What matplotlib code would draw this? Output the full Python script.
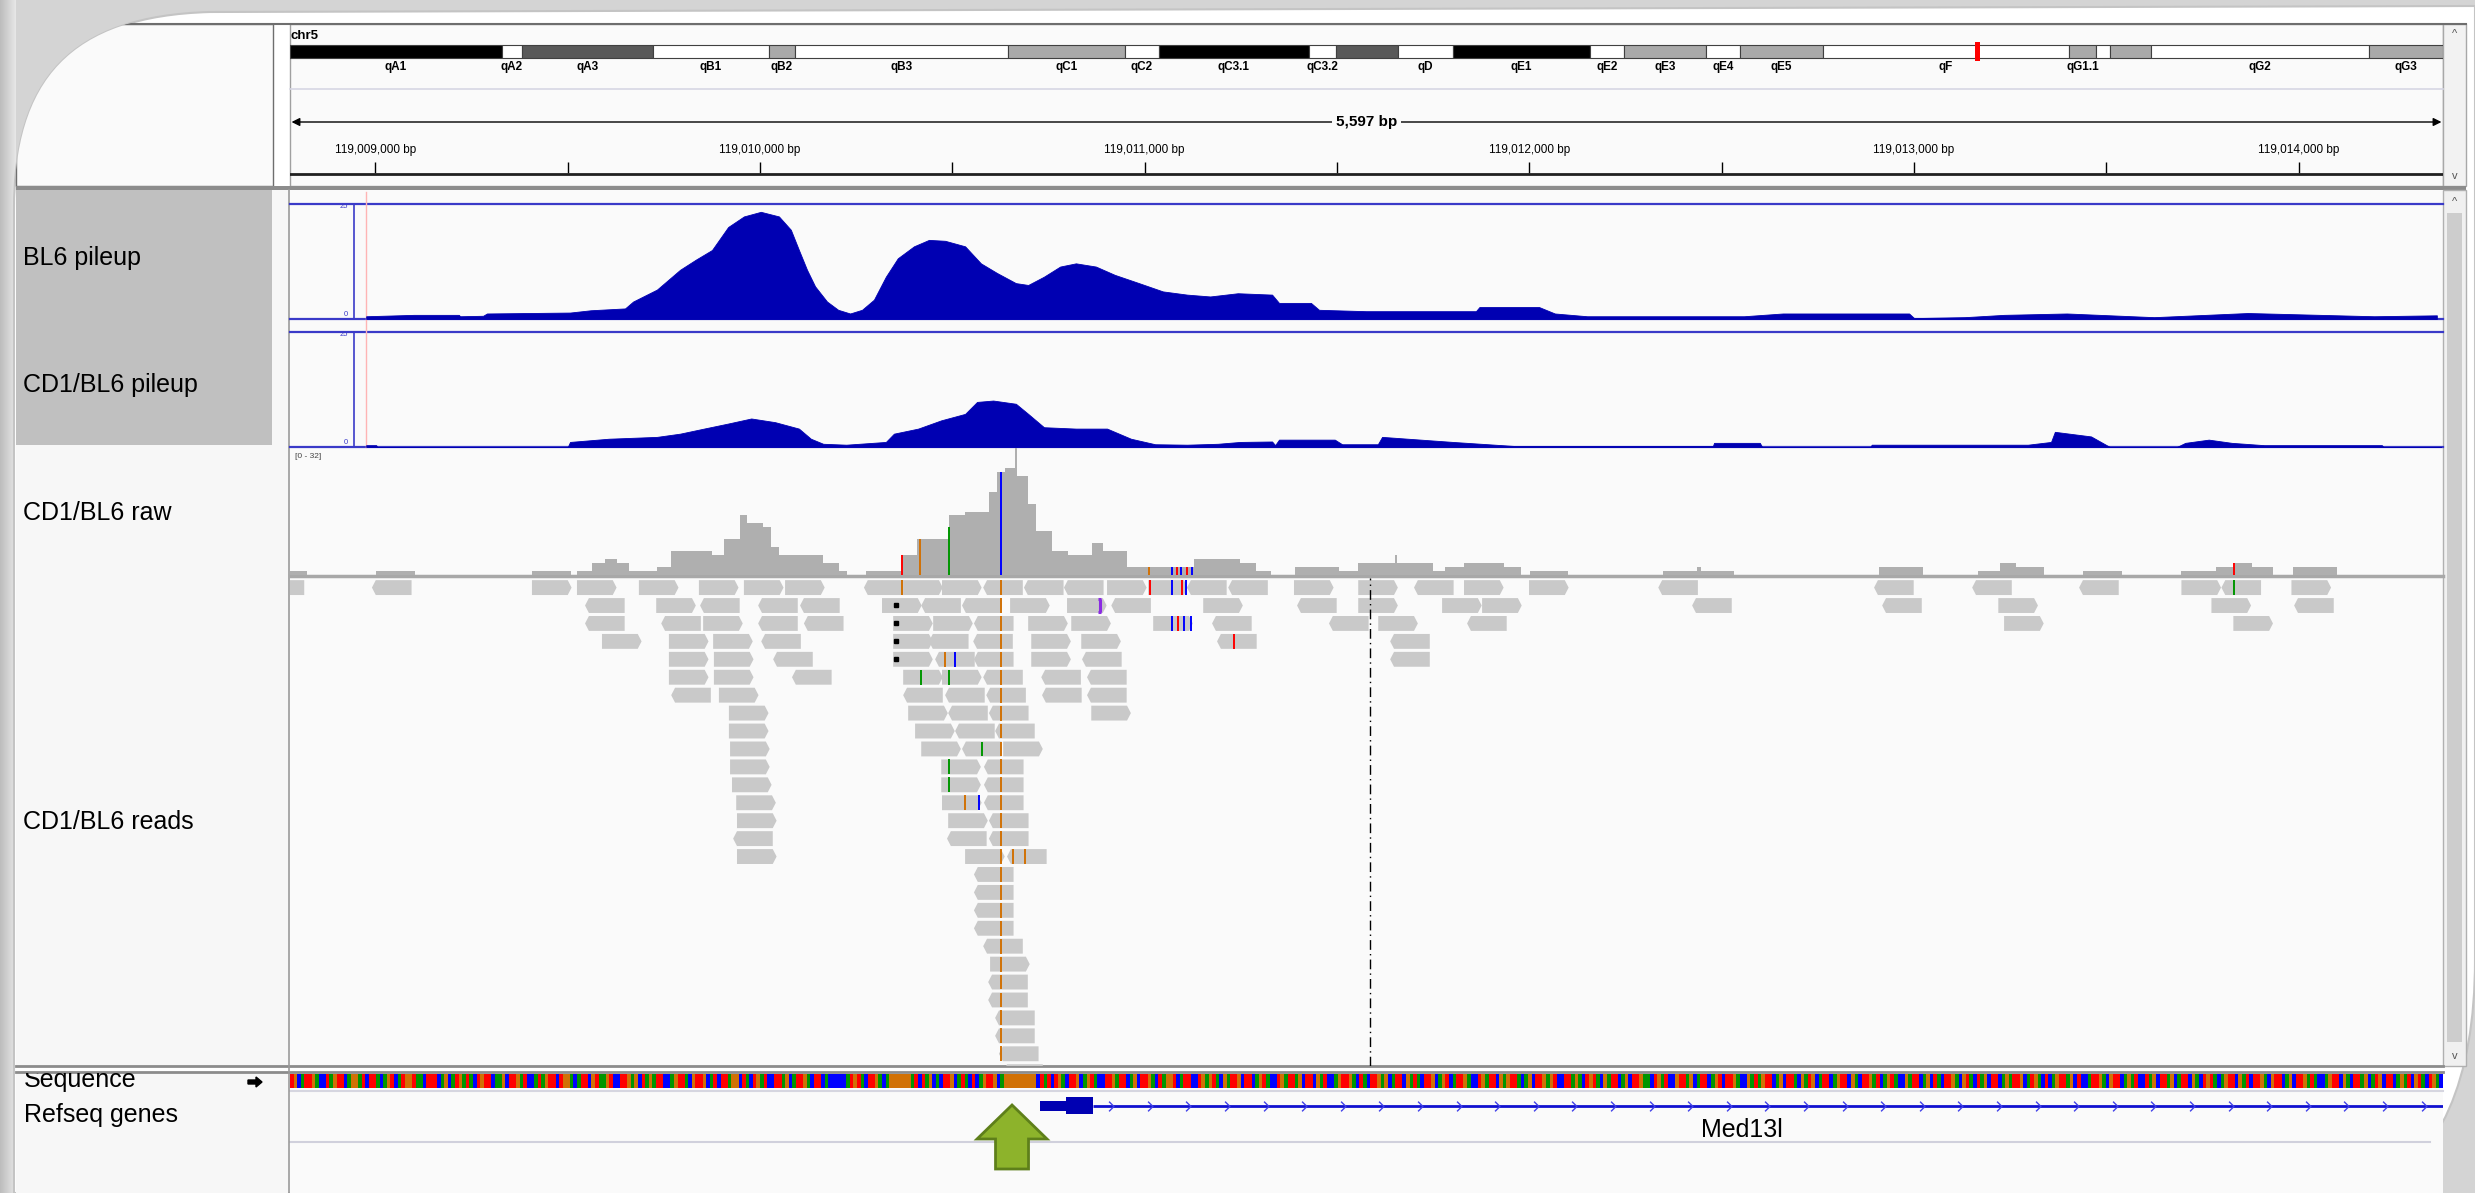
import numpy as np
import matplotlib.pyplot as plt
from matplotlib.patches import Rectangle, Polygon, PathPatch, FancyArrow
from matplotlib.path import Path

# locus shown in the IGV window (mm10 chr5)
view_start = 119008778
view_end = 119014375
chr5_length = 151834684

# chr5 cytobands, band ends in Mb
band_names = ['qA1', 'qA2', 'qA3', 'qB1', 'qB2', 'qB3', 'qC1', 'qC2', 'qC3.1', 'qC3.2', 'qC3.3', 'qD',
              'qE1', 'qE2', 'qE3', 'qE4', 'qE5', 'qF', 'qG1.1', 'qG1.2', 'qG1.3', 'qG2', 'qG3']
band_ends = [14.95, 16.36, 25.6, 33.78, 35.61, 50.63, 58.89, 61.28, 71.86, 73.77, 78.14, 82.02,
             91.68, 94.08, 99.86, 102.26, 108.11, 125.46, 127.36, 128.35, 131.24, 146.62, 151.83]
band_stains = ['gpos100', 'gneg', 'gpos75', 'gneg', 'gpos33', 'gneg', 'gpos33', 'gneg', 'gpos100', 'gneg',
               'gpos75', 'gneg', 'gpos100', 'gneg', 'gpos33', 'gneg', 'gpos33', 'gneg', 'gpos33', 'gneg',
               'gpos33', 'gneg', 'gpos33']
hidden_band_labels = ['qC3.3', 'qG1.2', 'qG1.3']

ruler_ticks = [119009000, 119009500, 119010000, 119010500, 119011000, 119011500,
               119012000, 119012500, 119013000, 119013500, 119014000]

# BL6 pileup (bigwig, range 0-25)
bl6_pos = [119008976, 119009100, 119009217, 119009220, 119009280, 119009290, 119009506, 119009560,
           119009649, 119009670, 119009732, 119009792, 119009833, 119009875, 119009917, 119009958,
           119010002, 119010049, 119010080, 119010101, 119010122, 119010143, 119010174, 119010203,
           119010234, 119010265, 119010296, 119010327, 119010358, 119010400, 119010439, 119010481,
           119010533, 119010574, 119010616, 119010665, 119010697, 119010738, 119010780, 119010821,
           119010873, 119010922, 119010985, 119011047, 119011110, 119011170, 119011242, 119011331,
           119011349, 119011432, 119011453, 119011575, 119011861, 119011870, 119012025, 119012066,
           119012150, 119012558, 119012659, 119012987, 119013000, 119013132, 119013234, 119013397,
           119013624, 119013868, 119014196, 119014359]
bl6_cov = [0.6, 0.9, 0.9, 0.6, 0.7, 1.2, 1.4, 1.9,
           2.3, 3.8, 6.4, 10.7, 12.9, 15.0, 20.0, 22.3,
           23.3, 22.3, 19.4, 15.0, 10.7, 7.1, 3.8, 2.0,
           1.2, 2.0, 4.2, 9.2, 13.2, 15.8, 17.2, 17.0,
           15.8, 12.1, 10.0, 7.8, 7.4, 9.2, 11.4, 12.1,
           11.4, 9.6, 7.8, 6.0, 5.3, 4.9, 5.6, 5.3,
           3.5, 3.5, 2.0, 1.7, 1.7, 2.6, 2.6, 1.2,
           0.6, 0.6, 1.2, 1.2, 0.2, 0.4, 0.9, 1.2,
           0.4, 1.3, 0.6, 0.8]

# CD1/BL6 pileup (range 0-25)
cd1_pos = [119008976, 119009002, 119009005, 119009500, 119009506, 119009607, 119009670, 119009732,
           119009792, 119009854, 119009917, 119009977, 119010039, 119010101, 119010132, 119010164,
           119010224, 119010327, 119010348, 119010411, 119010471, 119010533, 119010564, 119010606,
           119010665, 119010697, 119010738, 119010821, 119010902, 119010964, 119011027, 119011110,
           119011190, 119011248, 119011331, 119011339, 119011349, 119011494, 119011513, 119011606,
           119011617, 119011801, 119011965, 119012477, 119012480, 119012599, 119012605, 119012886,
           119012890, 119013296, 119013356, 119013366, 119013460, 119013509, 119013683, 119013705,
           119013766, 119013826, 119013910, 119014216, 119014220, 119014370]
cd1_cov = [0.4, 0.4, 0.0, 0.0, 1.1, 1.8, 2.0, 2.2,
           2.9, 4.0, 5.1, 6.2, 5.4, 4.0, 1.8, 0.7,
           0.5, 1.1, 2.9, 4.0, 5.8, 7.2, 9.8, 10.1,
           9.4, 7.2, 4.3, 4.0, 4.0, 1.8, 0.6, 0.5,
           0.7, 1.1, 1.2, 0.4, 1.6, 1.6, 0.6, 0.6,
           2.2, 1.1, 0.2, 0.2, 0.9, 0.9, 0.0, 0.0,
           0.5, 0.5, 1.1, 3.3, 2.3, 0.0, 0.0, 0.9,
           1.6, 0.9, 0.4, 0.4, 0.0, 0.0]
pileup_max = 25

# CD1/BL6 raw coverage (step starts, range 0-32)
raw_pos = [119008779, 119008822, 119009001, 119009104, 119009406, 119009509, 119009525, 119009562,
           119009597, 119009628, 119009659, 119009731, 119009768, 119009875, 119009906, 119009947,
           119009967, 119010008, 119010029, 119010049, 119010163, 119010204, 119010225, 119010276,
           119010368, 119010409, 119010492, 119010533, 119010594, 119010615, 119010636, 119010664,
           119010667, 119010697, 119010718, 119010759, 119010800, 119010862, 119010892, 119010954,
           119011129, 119011248, 119011289, 119011329, 119011391, 119011504, 119011554, 119011651,
           119011655, 119011749, 119011780, 119011831, 119011933, 119011979, 119012001, 119012101,
           119012347, 119012435, 119012445, 119012533, 119012910, 119013024, 119013166, 119013223,
           119013264, 119013339, 119013438, 119013540, 119013694, 119013786, 119013833, 119013879,
           119013934, 119013985, 119014100]
raw_cov = [1, 0, 1, 0, 1, 0, 1, 3,
           4, 3, 1, 2, 6, 5, 9, 15,
           13, 12, 7, 5, 3, 1, 0, 1,
           5, 9, 15, 16, 21, 26, 27, 32,
           25, 18, 11, 6, 5, 8, 6, 2,
           4, 3, 1, 0, 2, 1, 3, 5,
           3, 1, 2, 3, 2, 0, 1, 0,
           1, 2, 1, 0, 2, 0, 1, 3,
           2, 0, 1, 0, 1, 2, 3, 2,
           0, 2, 0]
raw_max = 32
raw_snv_pos = [119010368, 119010416, 119010491, 119010627, 119011011, 119011070, 119011084,
               119011095, 119011110, 119011122, 119013832]
raw_snv_height = [5, 9, 12, 26, 2, 2, 2, 2, 2, 2, 3]
raw_snv_base = 'TGACGCTCTCT'

# aligned reads: (row, start, strand)
reads = [
    (0, 119008712, '-'), (0, 119008991, '-'), (0, 119009407, '+'), (0, 119009524, '+'), (0, 119009685, '+'),
    (0, 119009841, '+'), (0, 119009958, '+'), (0, 119010065, '+'), (0, 119010270, '-'), (0, 119010372, '+'),
    (0, 119010473, '+'), (0, 119010580, '-'), (0, 119010686, '-'), (0, 119010790, '-'), (0, 119010902, '+'),
    (0, 119011009, '+'), (0, 119011110, '-'), (0, 119011217, '-'), (0, 119011388, '+'), (0, 119011555, '+'),
    (0, 119011700, '-'), (0, 119011830, '+'), (0, 119011999, '+'), (0, 119012335, '-'), (0, 119012896, '-'),
    (0, 119013151, '-'), (0, 119013429, '-'), (0, 119013695, '+'), (0, 119013799, '-'), (0, 119013981, '+'),
    (1, 119009545, '-'), (1, 119009730, '+'), (1, 119009844, '-'), (1, 119009995, '-'), (1, 119010104, '-'),
    (1, 119010317, '+'), (1, 119010419, '-'), (1, 119010525, '-'), (1, 119010650, '+'), (1, 119010798, '+'),
    (1, 119010913, '-'), (1, 119011152, '+'), (1, 119011396, '-'), (1, 119011555, '+'), (1, 119011773, '+'),
    (1, 119011877, '+'), (1, 119012423, '-'), (1, 119012917, '-'), (1, 119013219, '+'), (1, 119013773, '+'),
    (1, 119013988, '-'),
    (2, 119009545, '-'), (2, 119009743, '-'), (2, 119009852, '+'), (2, 119009995, '-'), (2, 119010114, '-'),
    (2, 119010346, '+'), (2, 119010450, '+'), (2, 119010556, '-'), (2, 119010697, '+'), (2, 119010809, '+'),
    (2, 119011022, '+'), (2, 119011175, '-'), (2, 119011479, '-'), (2, 119011607, '+'), (2, 119011838, '-'),
    (2, 119013234, '+'), (2, 119013830, '+'),
    (3, 119009589, '+'), (3, 119009763, '+'), (3, 119009878, '+'), (3, 119010003, '-'), (3, 119010346, '+'),
    (3, 119010439, '-'), (3, 119010554, '-'), (3, 119010705, '+'), (3, 119010835, '+'), (3, 119011188, '-'),
    (3, 119011638, '-'),
    (4, 119009763, '+'), (4, 119009880, '+'), (4, 119010034, '-'), (4, 119010346, '+'), (4, 119010455, '-'),
    (4, 119010556, '-'), (4, 119010705, '+'), (4, 119010837, '-'), (4, 119011638, '-'),
    (5, 119009763, '+'), (5, 119009880, '+'), (5, 119010083, '-'), (5, 119010372, '+'), (5, 119010473, '+'),
    (5, 119010580, '-'), (5, 119010731, '-'), (5, 119010850, '-'),
    (6, 119009769, '-'), (6, 119009893, '+'), (6, 119010372, '-'), (6, 119010481, '-'), (6, 119010588, '-'),
    (6, 119010733, '-'), (6, 119010850, '-'),
    (7, 119009919, '+'), (7, 119010385, '+'), (7, 119010489, '-'), (7, 119010595, '-'), (7, 119010861, '+'),
    (8, 119009919, '+'), (8, 119010403, '+'), (8, 119010507, '-'), (8, 119010611, '-'),
    (9, 119009922, '+'), (9, 119010419, '+'), (9, 119010525, '-'), (9, 119010632, '+'),
    (10, 119009922, '+'), (10, 119010471, '+'), (10, 119010582, '-'),
    (11, 119009927, '+'), (11, 119010471, '+'), (11, 119010582, '-'),
    (12, 119009938, '+'), (12, 119010473, '+'), (12, 119010582, '-'),
    (13, 119009940, '+'), (13, 119010489, '+'), (13, 119010595, '-'),
    (14, 119009930, '-'), (14, 119010486, '-'), (14, 119010595, '-'),
    (15, 119009940, '+'), (15, 119010533, '+'), (15, 119010642, '-'),
    (16, 119010556, '-'), (17, 119010556, '-'), (18, 119010556, '-'), (19, 119010556, '-'),
    (20, 119010580, '-'), (21, 119010598, '+'), (22, 119010593, '-'), (23, 119010593, '-'),
    (24, 119010611, '-'), (25, 119010611, '-'), (26, 119010621, '-'), (27, 119010632, '-'),
]
read_length = 103
shared_snv = 119010627
shared_snv_base = 'G'
read_mismatches = [(0, 119010368, 'G'), (0, 119011013, 'T'), (0, 119011070, 'C'), (0, 119011096, 'T'),
                   (0, 119011108, 'C'), (0, 119013832, 'A'),
                   (2, 119011070, 'C'), (2, 119011086, 'T'), (2, 119011101, 'C'), (2, 119011121, 'C'),
                   (3, 119011232, 'T'), (4, 119010481, 'G'), (4, 119010507, 'C'),
                   (5, 119010419, 'A'), (5, 119010491, 'A'), (9, 119010577, 'A'),
                   (10, 119010491, 'A'), (11, 119010491, 'A'), (12, 119010533, 'G'), (12, 119010568, 'C'),
                   (15, 119010657, 'G'), (15, 119010690, 'G')]
insertion_row = 1
insertion_pos = 119010883
clip_rows = [1, 2, 3, 4]
clip_pos = 119010354
center_line = 119011585

# reference sequence shown in the Sequence track
sequence = (
    'TGCATTGACCTAGTTCAGGATCTTACAGTCATGGTAACTTTCAGCATGAT'
    'ACTGTTCAAGCTTGATCCATAGTTCTGGACATTCGTAAGTCCTTGAGCTA'
    'GATTCCAGTTACGTTGCATCTTAGGCTACTGATCCTTAGCATTGACTTCA'
    'CCCCCATGTACTTGACAGGGGGGATCTAGCACTTGCATACTCAGTTGCAG'
    'GGGGGGGGCTATCTGACTTGCAGTACCTTGATTCAGCTTGACTAGGTCAT'
    'TCCTGAGTACGATTGCTTCAGTACCTGATTAGCTTCGATCCAGTTGACTA'
    'CTTGAGCATTCGATACTTGCAGTCATTGACCTGATTCGAGTTACAGCTTG'
    'AGTCCTTAGACTGTACGATTCAGCTTGAACTGATCCGTTAGCATTCAGTC'
    'TTGACCGATAGTTCAGCTTACGATGCATTCAGTTCGACTTGATCAGTACC'
    'GATTCAGCTACTTGACGTACTAGCTTCAGATTGCATGACTCAGTTAGCTC'
    'CATTGACGTTCAGATCCTAGCTTAGCATTCGACTGTACAGTTCGATCTTG'
    'ACGTTCAGCTTGATACCAGTTCGACTTAGCATGCTTCAGATCGTACTGAC'
)

gene_name = 'Med13l'
gene_start = 119010728
cds_start = 119010796
exon_end = 119010866
arrow_pos = 119010655

track_names = ['BL6 pileup', 'CD1/BL6 pileup', 'CD1/BL6 raw', 'CD1/BL6 reads']

base_colors = {'A': '#009600', 'C': '#0000FF', 'G': '#D17105', 'T': '#FF0000'}
stain_colors = {'gpos100': '#000000', 'gpos75': '#595959', 'gpos33': '#A9A9A9', 'gneg': '#FFFFFF'}

W, H = 2475, 1193
X0, X1 = 290, 2443
ROW_PX = 17.93


def px_axes(fig, x0, y0, x1, y1):
    ax = fig.add_axes([x0 / W, 1 - y1 / H, (x1 - x0) / W, (y1 - y0) / H])
    ax.set_axis_off()
    return ax


def genome_axes(fig, y0, y1):
    ax = px_axes(fig, X0, y0, X1, y1)
    ax.set_xlim(view_start, view_end)
    return ax


def draw_chrome(bg):
    # soft gray margin on the left, then the white "page" with its curled corners
    shade = np.linspace(0.74, 0.9, 16)[None, :]
    bg.imshow(shade, cmap='gray', vmin=0, vmax=1, extent=(0, 16, H, 0), aspect='auto')
    bg.set_xlim(0, W)
    bg.set_ylim(H, 0)
    verts = [(14, H), (14, 210), (14, 80), (70, 16), (210, 12), (W, 6), (W, 960),
             (W, 1080), (2440, 1160), (2372, H), (14, H)]
    codes = [Path.MOVETO, Path.LINETO, Path.CURVE4, Path.CURVE4, Path.CURVE4, Path.LINETO,
             Path.LINETO, Path.CURVE4, Path.CURVE4, Path.CURVE4, Path.CLOSEPOLY]
    page = PathPatch(Path(verts, codes), facecolor='white', edgecolor='#C4C4C4', lw=1.5)
    bg.add_patch(page)

    # header (its top-left corner disappears under the page curl)
    header_name = Rectangle((16, 24), 257, 162, facecolor='#FAFAFA', edgecolor='#6E6E6E', lw=1)
    bg.add_patch(header_name)
    header_name.set_clip_path(page)
    bg.add_patch(Rectangle((X0, 24), X1 - X0, 162, facecolor='#FAFAFA', edgecolor='#A0A0A0', lw=1))
    top_line, = bg.plot([16, 2466], [24, 24], color='#6E6E6E', lw=1.5)
    top_line.set_clip_path(page)
    bg.plot([X0, X1], [89, 89], color='#D6D6E4', lw=1.2)
    bg.add_patch(Rectangle((X1, 24), 23, 162, facecolor='#F2F2F2', edgecolor='#A8A8A8', lw=1))
    bg.text(2455, 34, '^', ha='center', va='center', fontsize=8, color='#555555')
    bg.text(2455, 176, 'v', ha='center', va='center', fontsize=8, color='#555555')
    bg.add_patch(Rectangle((16, 186), 2450, 4, facecolor='#8C8C8C', lw=0))

    # track panels
    bg.add_patch(Rectangle((16, 190), 272, 876, facecolor='#F7F7F7', lw=0))
    bg.add_patch(Rectangle((16, 190), 256, 255, facecolor='#C0C0C0', lw=0))
    bg.add_patch(Rectangle((X0, 190), X1 - X0, 876, facecolor='#FAFAFA', lw=0))
    bg.add_patch(Rectangle((X1, 190), 23, 876, facecolor='#F0F0F0', edgecolor='#B0B0B0', lw=1))
    bg.add_patch(Rectangle((2447, 213), 15, 829, facecolor='#CDCDCD', lw=0))
    bg.text(2455, 202, '^', ha='center', va='center', fontsize=8, color='#555555')
    bg.text(2455, 1056, 'v', ha='center', va='center', fontsize=8, color='#555555')

    # bottom panels
    bg.add_patch(Rectangle((16, 1072), 272, 121, facecolor='#F7F7F7', lw=0))
    bg.add_patch(Rectangle((X0, 1072), X1 - X0, 121, facecolor='#FAFAFA', lw=0))
    bg.plot([16, X1], [1066, 1066], color='#8C8C8C', lw=2)
    bg.plot([16, X1], [1072, 1072], color='#8C8C8C', lw=2)
    bg.plot([X0, X1], [1091, 1091], color='#D6D6E0', lw=1.5)
    bg.plot([X0, 2430], [1142, 1142], color='#D0D0DC', lw=1.5)
    bg.plot([289, 289], [190, H], color='#9A9A9A', lw=1.2)

    # pileup overlays
    for top, base in [(204, 319), (332, 447)]:
        bg.plot([X0, X1], [top, top], color='#3A3AC8', lw=1.6)
        bg.plot([X0, X1], [base, base], color='#3A3AC8', lw=1.6)
        bg.plot([354, 354], [top, base], color='#3A3AC8', lw=1.2)
        bg.text(348, top + 2, str(pileup_max), ha='right', va='center', fontsize=5.5, color='#3A3AC8')
        bg.text(348, base - 4, '0', ha='right', va='center', fontsize=5.5, color='#3A3AC8')
    bg.plot([366, 366], [192, 447], color='#FFB4B4', lw=1)
    bg.plot([X0, X1], [576, 576], color='#A8A8A8', lw=2.5)
    bg.text(295, 456, f'[0 - {raw_max}]', ha='left', va='center', fontsize=6, color='#444444')

    for name, baseline in zip(track_names, [265, 392, 520, 829]):
        bg.text(23, baseline, name, ha='left', va='baseline', fontsize=18)
    bg.text(24, 1122, 'Refseq genes', ha='left', va='baseline', fontsize=18)


def draw_ideogram(ax):
    ax.set_xlim(0, chr5_length)
    ax.set_ylim(89, 24)
    ax.text(2000, 36, 'chr5', ha='left', va='center', fontsize=9.5, fontweight='bold')
    start = 0
    for name, end_mb, stain in zip(band_names, band_ends, band_stains):
        end = end_mb * 1e6
        ax.add_patch(Rectangle((start, 45), end - start, 13, facecolor=stain_colors[stain],
                               edgecolor='#404040', lw=0.8))
        if name not in hidden_band_labels:
            ax.text((start + end) / 2, 67, name, ha='center', va='center', fontsize=8.5,
                    fontweight='bold')
        start = end
    mark = (view_start + view_end) / 2
    ax.add_patch(Rectangle((mark - 0.15e6, 42), 0.3e6, 19, facecolor='#FF0000', lw=0))


def draw_ruler(ax):
    ax.set_ylim(186, 89)
    span = view_end - view_start
    ax.annotate('', xy=(view_start + 4, 122), xytext=(view_end - 4, 122),
                arrowprops=dict(arrowstyle='<|-|>', color='black', lw=1, mutation_scale=12,
                                shrinkA=0, shrinkB=0))
    ax.text((view_start + view_end) / 2, 122, f'{span:,} bp', ha='center', va='center',
            fontsize=11, fontweight='bold', bbox=dict(facecolor='#FAFAFA', edgecolor='none', pad=3))
    ax.vlines(ruler_ticks, 162, 173, color='black', lw=1)
    for t in ruler_ticks:
        if t % 1000 == 0:
            ax.text(t, 150, f'{t:,} bp', ha='center', va='center', fontsize=8.5)
    ax.axhline(174, color='#202020', lw=2)


def draw_reads(ax, tip=10):
    ax.set_ylim((1066 - 578) / ROW_PX, 0)
    for row, start, strand in reads:
        end = start + read_length
        top, bot, mid = row + 0.12, row + 0.95, row + 0.535
        if strand == '+':
            pts = [(start, top), (end - tip, top), (end, mid), (end - tip, bot), (start, bot)]
        else:
            pts = [(start + tip, top), (end, top), (end, bot), (start + tip, bot), (start, mid)]
        ax.add_patch(Polygon(pts, closed=True, facecolor='#C9C9C9', edgecolor='none'))
        if start <= shared_snv < end:
            ax.vlines(shared_snv, top, bot, color=base_colors[shared_snv_base], lw=1.4)
    for row, pos, base in read_mismatches:
        ax.vlines(pos, row + 0.12, row + 0.95, color=base_colors[base], lw=1.4)
    ins = insertion_row
    ax.vlines(insertion_pos, ins + 0.15, ins + 0.92, color='#8A2BE2', lw=2.2)
    ax.hlines([ins + 0.15, ins + 0.92], insertion_pos - 4, insertion_pos + 4, color='#8A2BE2', lw=2.2)
    ax.plot([clip_pos] * len(clip_rows), [r + 0.53 for r in clip_rows], 's', color='black', ms=2.2)
    ax.axvline(center_line, color='black', lw=1, ls=(0, (7, 3, 1, 3)))


def draw_genes(ax, bp_per_px):
    ax.set_ylim(1142, 1092)
    ax.hlines(1106, exon_end, view_end + 200, color='#1010D0', lw=2)
    ax.add_patch(Rectangle((gene_start, 1101), cds_start - gene_start, 10, facecolor='#0000B2', lw=0))
    ax.add_patch(Rectangle((cds_start, 1097), exon_end - cds_start, 17, facecolor='#0000B2', lw=0))
    chevron = [(-0.5, 1), (0.5, 0), (-0.5, -1)]
    marks = np.arange(exon_end + 47, view_end - 20, 38.6 * bp_per_px)
    ax.plot(marks, [1106] * len(marks), ls='none', marker=chevron, ms=7, mew=1,
            mfc='none', mec='#4040E8')
    label_x = (max(gene_start, view_start) + view_end) / 2
    ax.text(label_x, 1137, gene_name, ha='center', va='baseline', fontsize=18)
    # green annotation arrow pointing at the locus
    hw, sw = 35 * bp_per_px, 16.5 * bp_per_px
    pts = [(arrow_pos, 1105), (arrow_pos + hw, 1139), (arrow_pos + sw, 1139), (arrow_pos + sw, 1169),
           (arrow_pos - sw, 1169), (arrow_pos - sw, 1139), (arrow_pos - hw, 1139)]
    ax.add_patch(Polygon(pts, closed=True, facecolor='#8DB32B', edgecolor='#5E7F1A', lw=2,
                         clip_on=False, zorder=5))


def main():
    plt.rcParams['font.family'] = ['Liberation Sans', 'DejaVu Sans']
    fig = plt.figure(figsize=(W / 100, H / 100), dpi=100, facecolor='#D4D4D4')
    bp_per_px = (view_end - view_start) / (X1 - X0)

    bg = px_axes(fig, 0, 0, W, H)
    draw_chrome(bg)

    draw_ideogram(px_axes(fig, X0, 24, X1, 89))
    draw_ruler(genome_axes(fig, 89, 186))

    p1 = genome_axes(fig, 204, 319)
    p1.set_ylim(0, pileup_max)
    p1.fill_between(bl6_pos, bl6_cov, color='#0000B2', lw=0.6)

    p2 = genome_axes(fig, 332, 447)
    p2.set_ylim(0, pileup_max)
    p2.fill_between(cd1_pos, cd1_cov, color='#0000B2', lw=0.6)

    raw = genome_axes(fig, 448, 575)
    raw.set_ylim(0, raw_max)
    raw.fill_between(raw_pos, raw_cov, step='post', color='#AFAFAF', lw=0)
    raw.vlines(raw_snv_pos, 0, raw_snv_height, colors=[base_colors[b] for b in raw_snv_base], lw=1.4)

    draw_reads(genome_axes(fig, 578, 1066))

    seq = genome_axes(fig, 1074, 1088)
    seq.set_ylim(0, 1)
    step = (view_end - view_start) / len(sequence)
    lefts = view_start + step * np.arange(len(sequence))
    seq.bar(lefts, 1, width=step, align='edge', color=[base_colors[b] for b in sequence], linewidth=0)

    bn = px_axes(fig, 16, 1073, 288, H)
    bn.set_xlim(16, 288)
    bn.set_ylim(H, 1073)
    bn.text(24, 1087, 'Sequence', ha='left', va='baseline', fontsize=18, clip_on=True)
    bn.add_patch(FancyArrow(248, 1082, 8, 0, width=4, head_width=10, head_length=6,
                            color='black', length_includes_head=False))

    draw_genes(genome_axes(fig, 1092, 1142), bp_per_px)

    fig.savefig('out.png', dpi=100, facecolor=fig.get_facecolor())


if __name__ == '__main__':
    main()
